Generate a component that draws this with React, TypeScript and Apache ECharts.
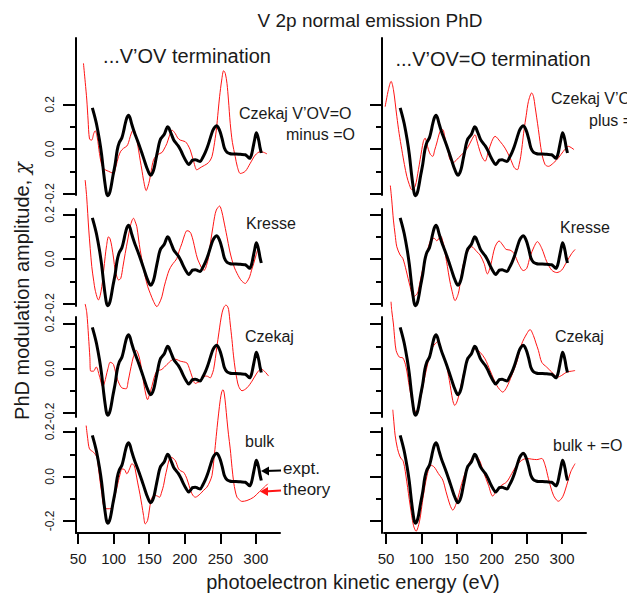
import React, { useEffect, useRef } from "react";
import * as echarts from "echarts";

type Pt = [number, number];

const X_TICKS = [50, 100, 150, 200, 250, 300];
const Y_MAJOR = [-0.2, 0, 0.2];
const Y_MINOR = [-0.1, 0.1];

// experiment (same in every panel)
const expt: Pt[] = [[70,0.185],[73,0.15],[76,0.11],[80,0.04],[83,-0.025],[86,-0.11],[88,-0.16],[90,-0.2],[92,-0.21],[94,-0.2],[96,-0.175],[99,-0.12],[102,-0.07],[105,-0.005],[108,0.03],[111.5,0.05],[114,0.08],[116,0.11],[118.5,0.14],[121,0.152],[123,0.14],[125.6,0.11],[128,0.085],[130.3,0.064],[135,0.025],[139.7,-0.018],[143,-0.05],[146.7,-0.085],[150,-0.11],[152.4,-0.118],[155,-0.105],[157,-0.085],[159.5,-0.045],[161.7,-0.01],[164,0.025],[166,0.045],[168.5,0.055],[171,0.065],[173.5,0.085],[175.8,0.1],[177.5,0.095],[179.6,0.079],[182,0.06],[184.3,0.042],[188,0.025],[191.3,0.012],[195,-0.01],[198.3,-0.033],[202,-0.055],[205.4,-0.07],[208,-0.062],[211,-0.05],[214.8,-0.048],[218,-0.052],[221.8,-0.056],[225,-0.04],[228.9,-0.015],[232,0.01],[235.9,0.049],[239,0.08],[241.5,0.095],[244.5,0.105],[247,0.098],[250,0.075],[253,0.04],[255.6,0.006],[259.4,-0.015],[263,-0.02],[266.4,-0.022],[272,-0.022],[278.2,-0.024],[285.2,-0.026],[288,-0.033],[291.3,-0.042],[294,-0.025],[296,0.005],[298.5,0.045],[300.7,0.073],[302.5,0.06],[304.4,0.034],[306,0.005],[307.7,-0.018]];

// theory: ...V'OV termination
const thCzekajMinusO: Pt[] = [[57.5,0.385],[60,0.3],[62.2,0.22],[64,0.13],[66,0.045],[69,0.04],[72,0.07],[74,0.082],[77,0.05],[80,-0.02],[83,-0.07],[85.7,-0.087],[89,-0.095],[92.7,-0.1],[96,-0.105],[99.8,-0.11],[103,-0.08],[106.8,-0.034],[110,-0.01],[113.8,0.003],[118.5,0.013],[121,0.03],[123.2,0.055],[126,0.08],[128,0.088],[130,0.075],[132.6,0.04],[135,-0.005],[137.3,-0.05],[140,-0.1],[142,-0.14],[145.8,-0.187],[148,-0.17],[150.5,-0.14],[153,-0.095],[156,-0.05],[160.8,-0.027],[167.8,-0.016],[171,0],[174.9,0.025],[178,0.055],[182,0.085],[186.6,0.07],[190,0.05],[193.7,0.04],[200.7,0.033],[204,0.02],[207.7,-0.004],[212,-0.05],[217,-0.094],[220,-0.088],[224,-0.08],[231.2,-0.067],[235,-0.055],[238.3,-0.034],[241,0.01],[244.4,0.085],[247,0.17],[249,0.235],[252,0.31],[254.7,0.352],[257,0.34],[259.4,0.295],[261.5,0.22],[264,0.115],[267,0.03],[271,-0.034],[274,-0.08],[278.2,-0.11],[285.2,-0.1],[292.2,-0.064],[299.3,-0.027],[306.3,-0.012],[311,-0.015],[315.7,-0.022]];
const thKresseV: Pt[] = [[59.9,0.355],[62,0.28],[65,0.13],[69.2,-0.034],[72,-0.1],[74,-0.14],[78.6,-0.184],[81,-0.165],[83.3,-0.124],[86,-0.05],[88,0.01],[90,0.06],[92.7,0.1],[95,0.09],[97.4,0.055],[100,0],[102,-0.05],[104.5,-0.08],[106.8,-0.094],[110,-0.087],[113,-0.035],[116.2,0.025],[120,0.09],[123.2,0.145],[126,0.175],[128,0.183],[130,0.17],[132.6,0.145],[135,0.09],[137.3,0.04],[141,-0.025],[144.4,-0.08],[148,-0.125],[151.4,-0.154],[156,-0.19],[160.8,-0.214],[164,-0.2],[167.8,-0.17],[171,-0.125],[174.9,-0.08],[178,-0.05],[182,-0.027],[189,0.003],[192,0.035],[196,0.07],[200,0.11],[203,0.127],[206,0.125],[208.7,0.115],[212,0.08],[214.8,0.04],[218,0],[221.8,-0.027],[224.5,-0.045],[227.5,-0.05],[230.5,-0.03],[233.6,0.01],[236.5,0.08],[239.7,0.145],[242,0.19],[244.4,0.22],[249,0.238],[252,0.215],[254.7,0.175],[259.4,0.1],[263,0.04],[266.4,-0.004],[270,-0.04],[273.5,-0.064],[277,-0.085],[280.5,-0.1],[285.2,-0.11],[288,-0.1],[291.3,-0.08],[294,-0.05],[297,-0.02],[300.5,0.02],[304,0.055]];
const thCzekajV: Pt[] = [[59.9,0.29],[62.2,0.25],[64.6,0.145],[66.5,0.05],[67.8,-0.012],[71.6,-0.012],[75.4,0.007],[80,-0.034],[84.7,-0.082],[87,-0.065],[89.4,-0.034],[92,0],[95,0.028],[97.5,0.025],[99.8,0.018],[102.5,-0.015],[105.4,-0.05],[108,-0.07],[111.5,-0.087],[117.6,-0.091],[120.5,-0.055],[123.2,-0.012],[126,0.03],[128,0.055],[131.7,0.082],[134,0.07],[137.3,0.033],[140,-0.02],[143,-0.08],[145.5,-0.12],[147.7,-0.14],[150.5,-0.115],[153.8,-0.08],[157,-0.04],[160.8,-0.012],[167.8,-0.004],[174.9,0.018],[179,0.03],[184.3,0.043],[189,0.04],[193.7,0.033],[198,0.03],[203,0.025],[206.5,0],[210,-0.034],[214.8,-0.067],[218,-0.063],[221.8,-0.057],[228.9,-0.034],[232,-0.035],[235.9,-0.042],[238,-0.03],[240.6,-0.004],[243,0.045],[245.3,0.1],[248,0.16],[250,0.205],[252.5,0.25],[255,0.275],[258,0.285],[260,0.28],[261.7,0.265],[264,0.2],[266.4,0.13],[268.5,0.06],[271,-0.004],[273.5,-0.05],[275.8,-0.08],[280.5,-0.1],[287.5,-0.087],[294.6,-0.057],[301.6,-0.02],[307.3,-0.002],[312,-0.012],[318,-0.034]];
const thBulk: Pt[] = [[61.3,0.229],[63.5,0.17],[66,0.124],[71.6,0.109],[76.3,0.087],[78.5,0.04],[81,-0.025],[83.5,-0.08],[85.7,-0.13],[90.4,-0.145],[97.4,-0.142],[100,-0.115],[102,-0.085],[104.5,-0.05],[106.8,-0.018],[109,0.01],[111.5,0.034],[115.3,0.031],[118.5,0.012],[122.3,0.034],[125.6,0.057],[128.9,0.049],[131,0.02],[133.6,-0.025],[137,-0.08],[139.7,-0.13],[142,-0.175],[144.4,-0.213],[147.7,-0.198],[150,-0.155],[152.4,-0.108],[155,-0.09],[158.5,-0.085],[161.5,-0.088],[164.6,-0.093],[167.5,-0.07],[170.2,-0.04],[172.5,0],[174.9,0.034],[177.5,0.07],[180.5,0.087],[186.6,0.072],[191.3,0.034],[194.5,0.025],[198.4,0.019],[201,0.005],[203,-0.01],[206,-0.04],[208.7,-0.067],[211.5,-0.085],[214.8,-0.093],[221.8,-0.078],[226.5,-0.062],[231.2,-0.048],[235,-0.025],[238.3,0.004],[240.5,0.06],[243,0.139],[245.5,0.22],[247.7,0.285],[250,0.345],[252,0.38],[253.8,0.39],[255.5,0.375],[257.5,0.32],[259.4,0.255],[261.5,0.19],[264,0.124],[266.5,0.04],[268.8,-0.025],[271,-0.065],[273.5,-0.093],[277,-0.105],[280.5,-0.112],[287.5,-0.108],[297,-0.093],[305.4,-0.067],[312,-0.048],[316.7,-0.033]];

// theory: ...V'OV=O termination
const thCzekajPlusO: Pt[] = [[48.6,0.19],[53.3,0.267],[57.1,0.304],[60.4,0.267],[65.2,0.147],[68.5,0.07],[72.3,-0.003],[76,-0.07],[79.4,-0.123],[83,-0.16],[86.5,-0.183],[91.2,-0.168],[95.9,-0.093],[100.7,-0.003],[103,0.035],[105.4,0.049],[107.8,0.025],[110.1,-0.003],[113,-0.025],[116.3,-0.033],[119,-0.005],[122,0.027],[126.7,0.079],[130.5,0.087],[133,0.06],[135.2,0.027],[138,-0.01],[140.9,-0.048],[145.6,-0.06],[152.7,-0.04],[159.8,-0.018],[165.5,0.004],[171.7,0.042],[176.4,0.064],[178.8,0.04],[181.2,0.012],[185.9,-0.033],[190.6,-0.055],[195.4,-0.01],[200.1,0.034],[204.8,0.057],[211.9,0.034],[219,0.004],[226.1,-0.04],[232.3,-0.085],[236.6,-0.093],[239,-0.07],[241.3,-0.033],[243.5,0.02],[246,0.087],[249,0.15],[252.2,0.214],[256.9,0.252],[259.5,0.235],[261.6,0.192],[264,0.14],[266.4,0.087],[271.1,-0.018],[275.9,-0.07],[280.6,-0.078],[287.7,-0.063],[294.8,-0.04],[301.9,-0.01],[309,0.012],[317,-0.003]];
const thKresseVO: Pt[] = [[56,0.33],[58,0.265],[60.4,0.175],[62.8,0.11],[65.2,0.055],[69.9,0.018],[73.7,0.003],[78.4,-0.05],[84.1,-0.124],[88.8,-0.17],[94.5,-0.154],[97.5,-0.115],[100.7,-0.064],[104,-0.02],[107.8,0.025],[113.4,0.085],[118.2,0.093],[122,0.082],[127.7,0.103],[130,0.085],[132.4,0.055],[134.7,0.01],[137.1,-0.034],[140,-0.09],[143.3,-0.139],[148,-0.187],[152.7,-0.154],[155.8,-0.095],[158.9,-0.034],[164.6,0.025],[171.7,0.055],[178.8,0.033],[183.5,0.018],[189.2,-0.02],[193.9,-0.067],[198.7,-0.027],[201.5,0.015],[204.8,0.055],[210.5,0.081],[215.7,0.063],[220.5,0.043],[226.1,0.04],[231.8,0.025],[238,-0.02],[245,-0.052],[249.8,-0.042],[254.5,0.01],[260.2,0.055],[264.9,0.078],[271.1,0.048],[278.2,-0.012],[285.3,-0.05],[292.4,-0.061],[299.5,-0.05],[306.6,-0.012],[313.7,0.025],[318.5,0.043]];
const thCzekajVO: Pt[] = [[57,0.3],[58,0.26],[60.4,0.2],[62.3,0.13],[64.2,0.081],[68.9,0.051],[73.7,0.048],[78.4,0.006],[83.1,-0.084],[87.9,-0.159],[92.6,-0.196],[95.5,-0.18],[98.3,-0.144],[101.8,-0.09],[105.4,-0.031],[109,0.02],[112.5,0.066],[116,0.095],[119.6,0.111],[124.3,0.123],[126.7,0.105],[129.1,0.081],[135.2,0.021],[139.9,-0.054],[142.3,-0.1],[144.7,-0.144],[147.5,-0.166],[150,-0.155],[152.7,-0.129],[155.8,-0.085],[158.9,-0.039],[161.8,0],[164.6,0.036],[171.7,0.073],[176.4,0.088],[183.5,0.073],[190.6,0.043],[197.7,-0.009],[202.5,-0.045],[207.2,-0.076],[211.5,-0.095],[215.7,-0.106],[221.4,-0.084],[228.5,-0.031],[235.6,0.028],[242.7,0.111],[249.8,0.156],[254.5,0.175],[259.3,0.148],[262.8,0.115],[266.4,0.081],[271.1,0.028],[278.2,0.006],[285.3,-0.016],[293.4,-0.039],[299.5,-0.031],[306.6,-0.016],[313.7,-0.012],[318.5,-0.009]];
const thBulkPlusO: Pt[] = [[59.5,0.3],[60.4,0.268],[62.8,0.186],[66.1,0.126],[69.9,0.088],[74.6,0.066],[79.4,-0.024],[84.1,-0.129],[88.8,-0.219],[92.6,-0.246],[97.3,-0.204],[100,-0.15],[103,-0.084],[107.8,-0.001],[113.4,0.051],[118.2,0.043],[124.3,0.013],[130.5,-0.016],[135.2,-0.069],[140.9,-0.129],[144.7,-0.151],[150.4,-0.114],[157.5,-0.031],[164.6,0.036],[171.7,0.081],[176.4,0.096],[182.6,0.073],[188.3,0.021],[195.4,-0.039],[201.5,-0.088],[207.2,-0.061],[214.3,-0.039],[221.4,-0.024],[228.5,0.013],[235.6,0.051],[242.7,0.073],[249.8,0.081],[256.9,0.078],[264,0.076],[271.1,0.081],[275.9,0.051],[280.6,-0.009],[287.7,-0.084],[294.8,-0.111],[300.9,-0.091],[306.6,-0.039],[312.3,0.021],[318.5,0.058]];

const X_MIN = 47;
const X_MAX = 334;
const PX_PER_UNIT = 222.5;
const FONT = '"Liberation Sans", Arial, sans-serif';
const INK = "#1a1a1a";
const RED = "#ff1414";

const COLS = [
  { left: 76, width: 204, tick: 13, offset: 0 },
  { left: 384, width: 202, tick: 12, offset: 2 },
];
const ROWS = [
  { top: 38, bottom: 195, zero: 149 },
  { top: 209, bottom: 306, zero: 259 },
  { top: 317, bottom: 417, zero: 368.5 },
  { top: 428, bottom: 533, zero: 476.5 },
];

const PANELS = [
  { col: 0, row: 0, theory: thCzekajMinusO },
  { col: 0, row: 1, theory: thKresseV },
  { col: 0, row: 2, theory: thCzekajV },
  { col: 0, row: 3, theory: thBulk },
  { col: 1, row: 0, theory: thCzekajPlusO },
  { col: 1, row: 1, theory: thKresseVO },
  { col: 1, row: 2, theory: thCzekajVO },
  { col: 1, row: 3, theory: thBulkPlusO },
];

function txt(text: string, x: number, y: number, size: number, align = "left", rotation = 0) {
  return {
    type: "text",
    x,
    y,
    rotation,
    silent: true,
    style: { text, font: `${size}px ${FONT}`, fill: INK, align, verticalAlign: "middle" },
  };
}

function arrow(x1: number, y1: number, x2: number, y2: number, color: string) {
  return [
    { type: "line", silent: true, shape: { x1, y1, x2: x2 + 4, y2 }, style: { stroke: color, lineWidth: 2 } },
    {
      type: "polygon",
      silent: true,
      shape: { points: [[x2, y2], [x2 + 8, y2 - 4.5], [x2 + 8, y2 + 4.5]] },
      style: { fill: color },
    },
  ];
}

function buildOption() {
  const grid: any[] = [];
  const xAxis: any[] = [];
  const yAxis: any[] = [];
  const series: any[] = [];
  PANELS.forEach((p, i) => {
    const c = COLS[p.col];
    const r = ROWS[p.row];
    const yMin = -(r.bottom - r.zero) / PX_PER_UNIT;
    const yMax = (r.zero - r.top) / PX_PER_UNIT;
    grid.push({ left: c.left, width: c.width, top: r.top, height: r.bottom - r.top, containLabel: false });
    xAxis.push({
      type: "value",
      gridIndex: i,
      min: X_MIN,
      max: X_MAX,
      position: "bottom",
      show: p.row === 3,
      axisLine: { show: true, onZero: false, lineStyle: { color: "#000", width: 2 } },
      axisTick: { show: true, length: 11, customValues: X_TICKS, lineStyle: { color: "#000", width: 2 } },
      axisLabel: { show: true, customValues: X_TICKS, margin: 18, fontSize: 15, fontFamily: FONT, color: INK },
      splitLine: { show: false },
    });
    yAxis.push({
      type: "value",
      gridIndex: i,
      min: yMin,
      max: yMax,
      position: "left",
      offset: c.offset,
      axisLine: { show: true, onZero: false, lineStyle: { color: "#000", width: 2 } },
      axisTick: { show: true, length: c.tick, customValues: Y_MAJOR, lineStyle: { color: "#000", width: 2 } },
      axisLabel: {
        show: p.col === 0,
        customValues: Y_MAJOR,
        rotate: 90,
        margin: 20,
        fontSize: 12,
        fontFamily: FONT,
        color: INK,
        formatter: (v: number) => v.toFixed(1),
      },
      splitLine: { show: false },
    });
    yAxis.push({
      type: "value",
      gridIndex: i,
      min: yMin,
      max: yMax,
      position: "left",
      offset: c.offset,
      axisLine: { show: false, onZero: false },
      axisTick: { show: true, length: 6, customValues: Y_MINOR, lineStyle: { color: "#000", width: 2 } },
      axisLabel: { show: false },
      splitLine: { show: false },
    });
    series.push({
      type: "line",
      xAxisIndex: i,
      yAxisIndex: 2 * i,
      data: p.theory,
      symbol: "none",
      smooth: 0.3,
      clip: false,
      silent: true,
      lineStyle: { color: RED, width: 1 },
      z: 2,
    });
    series.push({
      type: "line",
      xAxisIndex: i,
      yAxisIndex: 2 * i,
      data: expt,
      symbol: "none",
      smooth: 0.3,
      clip: false,
      silent: true,
      lineStyle: { color: "#000", width: 3 },
      z: 3,
    });
  });

  const yTitle = {
    type: "text",
    x: 22,
    y: 291,
    rotation: Math.PI / 2,
    silent: true,
    style: {
      text: "{a|PhD modulation amplitude, }{b|\u03c7}",
      align: "center",
      verticalAlign: "middle",
      fill: INK,
      font: `20px ${FONT}`,
      rich: {
        a: { fontSize: 20, fontFamily: FONT, fill: INK },
        b: { fontSize: 20, fontFamily: '"DejaVu Serif", serif', fontStyle: "italic", fill: INK },
      },
    },
  };

  const graphic: any[] = [
    txt("V 2p normal emission PhD", 370, 20, 19, "center"),
    txt("...V\u2019OV termination", 187, 56, 20, "center"),
    txt("...V\u2019OV=O termination", 493, 59, 20, "center"),
    txt("Czekaj V\u2019OV=O", 239, 113, 16),
    txt("minus =O", 286, 134, 16),
    txt("Czekaj V\u2019OV=O", 551, 98, 16),
    txt("plus =O", 589, 120, 16),
    txt("Kresse", 246, 223, 16),
    txt("Kresse", 560, 227, 16),
    txt("Czekaj", 245, 336, 16),
    txt("Czekaj", 555, 336, 16),
    txt("bulk", 245, 441, 16),
    txt("bulk + =O", 553, 445, 16),
    txt("expt.", 283, 468, 17),
    txt("theory", 283, 489, 17),
    txt("photoelectron kinetic energy (eV)", 353, 582, 20, "center"),
    yTitle,
    ...arrow(281, 470.5, 261, 471, "#000"),
    ...arrow(281, 490.5, 260, 491.5, RED),
  ];

  return { animation: false, backgroundColor: "#fff", grid, xAxis, yAxis, series, graphic };
}

export default function App() {
  const ref = useRef<HTMLDivElement>(null);
  useEffect(() => {
    if (!ref.current) return;
    const chart = echarts.init(ref.current, undefined, { renderer: "svg" });
    chart.setOption(buildOption() as any);
    return () => chart.dispose();
  }, []);
  return <div ref={ref} style={{ width: 627, height: 596, position: "absolute", left: 0, top: 0 }} />;
}
